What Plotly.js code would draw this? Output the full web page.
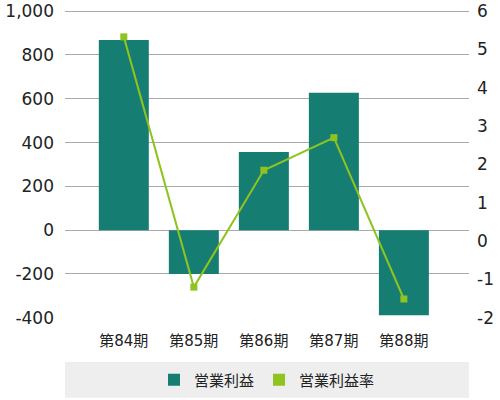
<!DOCTYPE html>
<html><head><meta charset="utf-8">
<script src="https://cdn.plot.ly/plotly-3.0.1.min.js"></script>
<style>html,body{margin:0;padding:0;background:#fff}#c{width:500px;height:400px}</style>
</head><body><div id="c"></div>
<script>
const categories = ['第84期','第85期','第86期','第87期','第88期'];
const operatingProfit = [868, -200, 357, 627, -388];
const operatingMargin = [5.33, -1.2, 1.85, 2.7, -1.51];
const leftTicks = [-400,-200,0,200,400,600,800,1000];
const leftTickText = ['-400','-200','0','200','400','600','800','1,000'];
const rightTicks = [-2,-1,0,1,2,3,4,5,6];
const rightTickText = ['-2','-1','0','1','2','3','4','5','6'];

const barColor = '#167d73';
const lineColor = '#8fc31f';
const font = '"DejaVu Sans", "Noto Sans CJK JP", sans-serif';

const traces = [
  {type:'bar', x:categories, y:operatingProfit, name:'営業利益', marker:{color:barColor}, width:0.714, hoverinfo:'none'},
  {type:'scatter', mode:'lines+markers', x:categories, y:operatingMargin, yaxis:'y2', name:'営業利益率',
   line:{color:lineColor, width:2}, marker:{symbol:'square', size:7, color:lineColor}, showlegend:false},
  {type:'bar', x:categories, y:categories.map(()=>null), name:'営業利益率', marker:{color:lineColor}, showlegend:true}
];

const layout = {
  width:500, height:400,
  margin:{l:65, r:31, t:9, b:82, autoexpand:false},
  paper_bgcolor:'#fff', plot_bgcolor:'#fff',
  font:{family:font, color:'#222', size:16},
  showlegend:true,
  barmode:'overlay',
  xaxis:{type:'category', range:[-0.84, 4.93], showgrid:false, zeroline:false, showline:false,
    ticks:'', tickfont:{size:15}, ticklabelstandoff:12},
  yaxis:{range:[-401,1010], tickvals:leftTicks, ticktext:leftTickText, showgrid:true, gridcolor:'#aaa', gridwidth:1,
    zeroline:false, showline:false, ticks:'', tickfont:{size:17}, ticklabelstandoff:10, ticklabeloverflow:'allow'},
  yaxis2:{overlaying:'y', side:'right', range:[-2.0057,6.0571], tickvals:rightTicks, ticktext:rightTickText, showgrid:false, zeroline:false,
    showline:false, ticks:'', tickfont:{size:17}, ticklabelstandoff:7, ticklabeloverflow:'allow'},
  legend:{orientation:'h', x:0.5, xanchor:'center', yref:'container', y:0.05, yanchor:'middle', bgcolor:'rgba(0,0,0,0)',
    font:{size:15, family:'"Noto Sans CJK JP", sans-serif'}, itemwidth:30, traceorder:'normal'},
  shapes:[{type:'rect', xref:'paper', yref:'paper', x0:0, x1:1, y0:-0.142, y1:-0.258, fillcolor:'#eeeeee', line:{width:0}, layer:'below'}]
};
Plotly.newPlot('c', traces, layout, {displayModeBar:false, staticPlot:true});
</script></body></html>
